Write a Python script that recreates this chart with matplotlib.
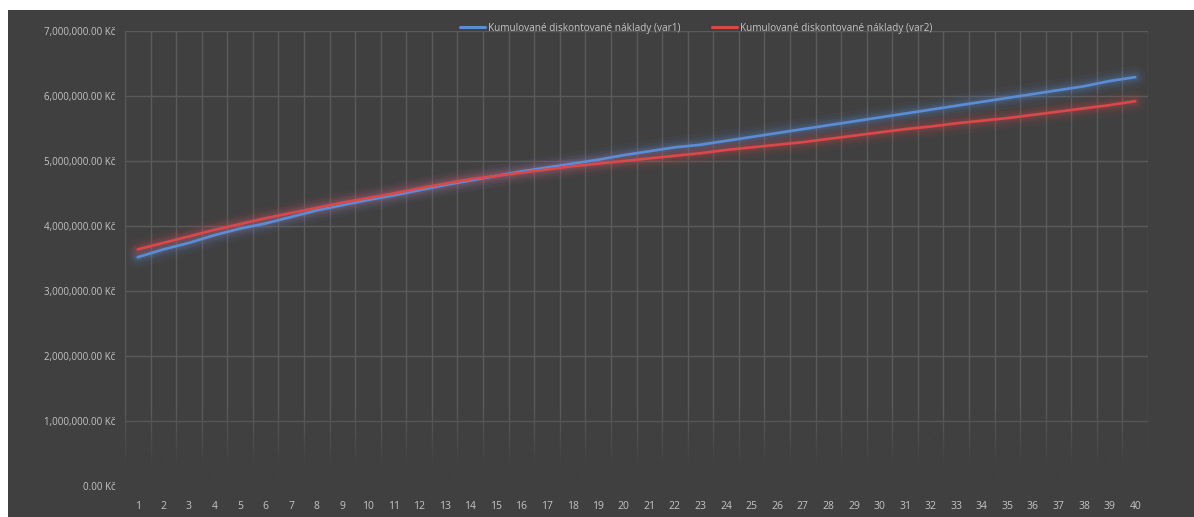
import matplotlib
matplotlib.use("Agg")
import matplotlib.pyplot as plt
import numpy as np
from matplotlib.ticker import FuncFormatter, MultipleLocator

# Years 1..40
years = list(range(1, 41))

# Cumulative discounted costs, variant 1 (Kč)
costs_var1 = [
    3520000, 3640000, 3740000, 3860000, 3960000, 4040000, 4140000, 4240000,
    4320000, 4400000, 4470000, 4550000, 4630000, 4700000, 4770000, 4840000,
    4900000, 4960000, 5020000, 5090000, 5150000, 5210000, 5250000, 5310000,
    5370000, 5430000, 5490000, 5550000, 5610000, 5670000, 5730000, 5790000,
    5850000, 5910000, 5970000, 6030000, 6090000, 6150000, 6230000, 6290000,
]

# Cumulative discounted costs, variant 2 (Kč)
costs_var2 = [
    3640000, 3740000, 3840000, 3940000, 4030000, 4120000, 4200000, 4280000,
    4360000, 4430000, 4500000, 4580000, 4650000, 4720000, 4770000, 4820000,
    4870000, 4920000, 4960000, 5000000, 5040000, 5080000, 5120000, 5170000,
    5210000, 5250000, 5290000, 5340000, 5390000, 5440000, 5490000, 5530000,
    5580000, 5620000, 5660000, 5710000, 5760000, 5810000, 5860000, 5920000,
]

series_labels = [
    "Kumulované diskontované náklady (var1)",
    "Kumulované diskontované náklady (var2)",
]

BG = "#404040"
GRID = "#5a5a5a"
TEXT = "#c4c4c4"
BLUE = "#5b8dd6"
RED = "#d9484a"

plt.rcParams["font.family"] = ["Open Sans", "DejaVu Sans"]

W, H = 1194, 517
fig = plt.figure(figsize=(W / 100, H / 100), dpi=100, facecolor="white")

# dark chart area (leaves a thin white band on top and left)
fig.patches.append(plt.Rectangle((8 / W, 0), 1 - 8 / W, 1 - 10 / H,
                                 transform=fig.transFigure, facecolor=BG,
                                 edgecolor="none", zorder=-10))

left, right, top, bottom = 125, 1148, 31, 486
ax = fig.add_axes([left / W, 1 - bottom / H, (right - left) / W, (bottom - top) / H])
ax.set_facecolor(BG)

x = np.array(years)

# category grid: vertical lines between categories
for b in np.arange(0.5, 41, 1.0):
    ax.axvline(b, color=GRID, lw=1.0, zorder=0.5)
for v in range(1000000, 7000001, 1000000):
    ax.axhline(v, color=GRID, lw=1.0, zorder=0.5)

# fade grid toward the bottom
n = 256
alpha = np.clip((1150000 - np.linspace(0, 1400000, n)) / 850000, 0, 1)
grad = np.zeros((n, 1, 4))
grad[:, 0, :3] = matplotlib.colors.to_rgb(BG)
grad[:, 0, 3] = alpha
ax.imshow(grad, extent=(0.5, 40.5, 0, 1400000), origin="lower", aspect="auto",
          zorder=1, interpolation="bilinear")
ax.set_ylim(0, 7000000)
ax.set_xlim(0.5, 40.5)

for vals, col, lab in [(costs_var1, BLUE, series_labels[0]),
                       (costs_var2, RED, series_labels[1])]:
    for lw, a in [(16, 0.05), (11, 0.07), (7.5, 0.10), (4.5, 0.13)]:
        ax.plot(x, vals, color=col, lw=lw, alpha=a, solid_capstyle="round", zorder=2)
    ax.plot(x, vals, color=col, lw=1.9, zorder=3, label=lab, solid_capstyle="round")

for s in ax.spines.values():
    s.set_visible(False)

ax.set_xticks(years)
ax.set_xticklabels([str(y) for y in years])
ax.yaxis.set_major_locator(MultipleLocator(1000000))
ax.yaxis.set_major_formatter(FuncFormatter(lambda v, p: f"{v:,.2f} Kč"))
ax.tick_params(axis="both", length=0, colors=TEXT)
ax.tick_params(axis="x", pad=11, labelsize=7.5)
ax.tick_params(axis="y", pad=7, labelsize=7.0)

leg = ax.legend(loc="center", bbox_to_anchor=(696 / W, 1 - 28 / H),
                bbox_transform=fig.transFigure, ncol=2, frameon=False,
                fontsize=7.2, handlelength=2.5, handletextpad=0.3,
                columnspacing=3.2, labelcolor=TEXT)
for h in leg.get_lines():
    h.set_linewidth(2.2)

fig.savefig("out.png", dpi=100, facecolor="white")
